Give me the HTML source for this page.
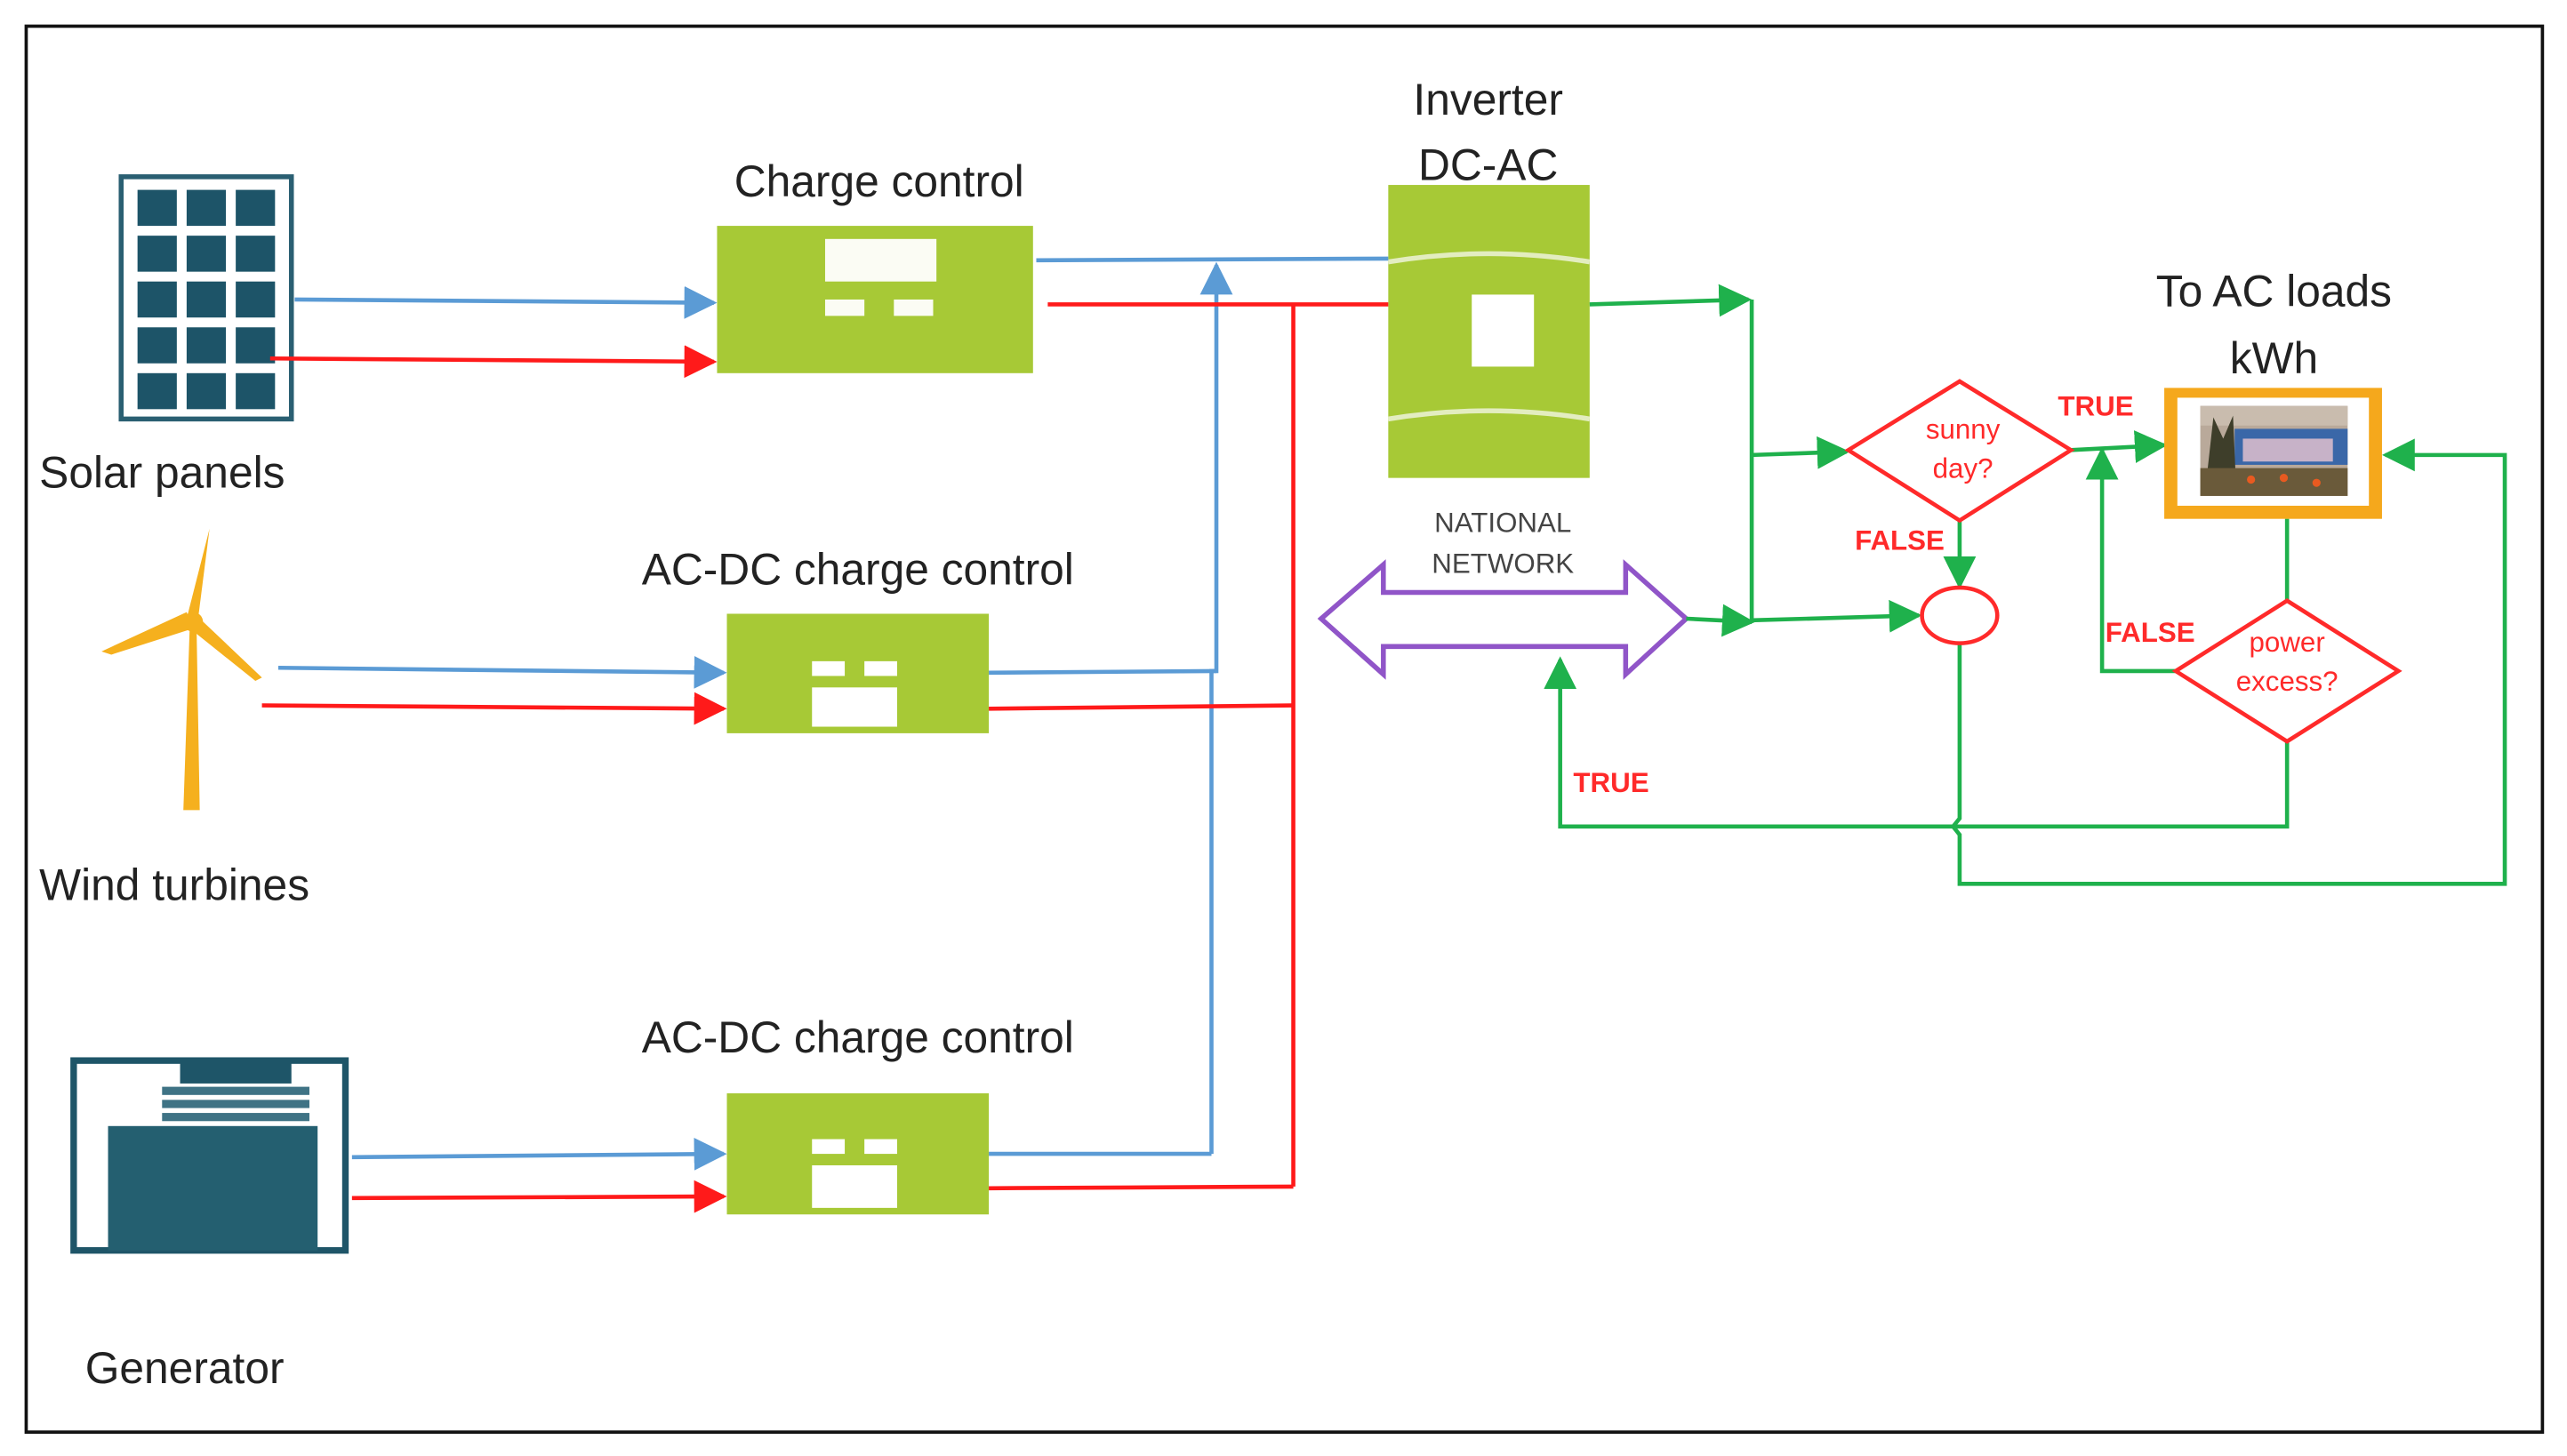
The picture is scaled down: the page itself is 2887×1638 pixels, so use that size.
<!DOCTYPE html>
<html><head><meta charset="utf-8"><style>
html,body{margin:0;padding:0;background:#fff;}
svg{display:block;}
text{font-family:"Liberation Sans",sans-serif;}
</style></head><body>
<svg width="2887" height="1638" viewBox="0 0 1568 889.6" preserveAspectRatio="none" xmlns="http://www.w3.org/2000/svg">
<defs>
<marker id="ab" viewBox="0 0 10 10" refX="9" refY="5" markerWidth="8" markerHeight="8" orient="auto" markerUnits="strokeWidth"><path d="M0,0L10,5L0,10z" fill="#5b9bd5"/></marker>
<marker id="ar" viewBox="0 0 10 10" refX="9" refY="5" markerWidth="8" markerHeight="8" orient="auto" markerUnits="strokeWidth"><path d="M0,0L10,5L0,10z" fill="#ff1a1a"/></marker>
<marker id="ag" viewBox="0 0 10 10" refX="9" refY="5" markerWidth="8" markerHeight="8" orient="auto" markerUnits="strokeWidth"><path d="M0,0L10,5L0,10z" fill="#1fb14c"/></marker>
</defs>
<rect x="0" y="0" width="1568" height="889.6" fill="#fff"/>
<rect x="16" y="16" width="1537" height="859" fill="none" stroke="#111" stroke-width="2"/>

<!-- Solar panel -->
<rect x="74" y="108" width="104" height="148" fill="#fff" stroke="#2a5f72" stroke-width="3"/>
<g fill="#1d5468">
<rect x="84" y="116" width="24" height="22"/><rect x="114" y="116" width="24" height="22"/><rect x="144" y="116" width="24" height="22"/>
<rect x="84" y="144" width="24" height="22"/><rect x="114" y="144" width="24" height="22"/><rect x="144" y="144" width="24" height="22"/>
<rect x="84" y="172" width="24" height="22"/><rect x="114" y="172" width="24" height="22"/><rect x="144" y="172" width="24" height="22"/>
<rect x="84" y="200" width="24" height="22"/><rect x="114" y="200" width="24" height="22"/><rect x="144" y="200" width="24" height="22"/>
<rect x="84" y="228" width="24" height="22"/><rect x="114" y="228" width="24" height="22"/><rect x="144" y="228" width="24" height="22"/>
</g>
<text x="24" y="298" font-size="27" fill="#222">Solar panels</text>

<!-- Wind turbine -->
<g fill="#f5b01e">
<polygon points="112,495 122,495 120,380 116,380"/>
<polygon points="114,378 128,323 121,378"/>
<polygon points="114,374 62,398 68,400 118,384"/>
<polygon points="120,376 160,414 156,416 116,384"/>
<circle cx="118" cy="380" r="6"/>
</g>
<text x="24" y="550" font-size="27" fill="#222">Wind turbines</text>

<!-- Generator -->
<rect x="45" y="648" width="166" height="116" fill="#fff" stroke="#1e5568" stroke-width="4"/>
<rect x="110" y="648" width="68" height="14" fill="#1e5568"/>
<rect x="99" y="664" width="90" height="5" fill="#3f7385"/>
<rect x="99" y="672" width="90" height="5" fill="#3f7385"/>
<rect x="99" y="680" width="90" height="5" fill="#3f7385"/>
<rect x="66" y="688" width="128" height="76" fill="#245f70"/>
<text x="52" y="845" font-size="27" fill="#222">Generator</text>

<!-- Charge controllers -->
<text x="537" y="120" font-size="27" fill="#222" text-anchor="middle">Charge control</text>
<rect x="438" y="138" width="193" height="90" fill="#a7c936"/>
<rect x="504" y="146" width="68" height="26" fill="#fff" opacity=".95"/>
<rect x="504" y="183" width="24" height="10" fill="#fff" opacity=".95"/>
<rect x="546" y="183" width="24" height="10" fill="#fff" opacity=".95"/>

<text x="524" y="357" font-size="27" fill="#222" text-anchor="middle">AC-DC charge control</text>
<rect x="444" y="375" width="160" height="73" fill="#a7c936"/>
<rect x="496" y="404" width="20" height="9" fill="#fff"/><rect x="528" y="404" width="20" height="9" fill="#fff"/>
<rect x="496" y="420" width="52" height="24" fill="#fff"/>

<text x="524" y="643" font-size="27" fill="#222" text-anchor="middle">AC-DC charge control</text>
<rect x="444" y="668" width="160" height="74" fill="#a7c936"/>
<rect x="496" y="696" width="20" height="9" fill="#fff"/><rect x="528" y="696" width="20" height="9" fill="#fff"/>
<rect x="496" y="712" width="52" height="26" fill="#fff"/>

<!-- Inverter -->
<text x="909" y="70" font-size="27" fill="#222" text-anchor="middle">Inverter</text>
<text x="909" y="110" font-size="27" fill="#222" text-anchor="middle">DC-AC</text>
<rect x="848" y="113" width="123" height="179" fill="#a7c936"/>
<path d="M848,160 Q909,150 971,160" stroke="#e3edc0" stroke-width="3" fill="none"/>
<path d="M848,256 Q909,246 971,256" stroke="#e3edc0" stroke-width="3" fill="none"/>
<rect x="899" y="180" width="38" height="44" fill="#fff"/>

<!-- Blue lines -->
<g stroke="#5b9bd5" stroke-width="2.5" fill="none">
<line x1="180" y1="183" x2="436" y2="185" marker-end="url(#ab)"/>
<line x1="170" y1="408" x2="442" y2="411" marker-end="url(#ab)"/>
<line x1="215" y1="707" x2="442" y2="705" marker-end="url(#ab)"/>
<line x1="633" y1="159" x2="848" y2="158"/>
<line x1="604" y1="411" x2="743" y2="410"/>
<line x1="604" y1="705" x2="740" y2="705"/>
<polyline points="740,705 740,410 743,410 743,162" marker-end="url(#ab)"/>
</g>
<!-- Red lines -->
<g stroke="#ff1a1a" stroke-width="2.5" fill="none">
<line x1="165" y1="219" x2="436" y2="221" marker-end="url(#ar)"/>
<line x1="160" y1="431" x2="442" y2="433" marker-end="url(#ar)"/>
<line x1="215" y1="732" x2="442" y2="731" marker-end="url(#ar)"/>
<line x1="640" y1="186" x2="848" y2="186"/>
<line x1="790" y1="186" x2="790" y2="725"/>
<line x1="604" y1="433" x2="790" y2="431"/>
<line x1="604" y1="726" x2="790" y2="725"/>
</g>

<!-- National network -->
<text x="918" y="325" font-size="17" fill="#444" text-anchor="middle">NATIONAL</text>
<text x="918" y="350" font-size="17" fill="#444" text-anchor="middle">NETWORK</text>
<polygon points="807,378 845,345 845,362 993,362 993,345 1030,378 993,412 993,395 845,395 845,412" fill="#fff" stroke="#9055c8" stroke-width="3"/>

<!-- Green connectors -->
<g stroke="#1fb14c" stroke-width="2.5" fill="none">
<line x1="971" y1="186" x2="1068" y2="183" marker-end="url(#ag)"/>
<line x1="1070" y1="183" x2="1070" y2="380"/>
<line x1="1070" y1="278" x2="1128" y2="276" marker-end="url(#ag)"/>
<line x1="1030" y1="378" x2="1070" y2="380" marker-end="url(#ag)"/>
<line x1="1070" y1="379" x2="1172" y2="376" marker-end="url(#ag)"/>
<line x1="1265" y1="275" x2="1322" y2="272" marker-end="url(#ag)"/>
<line x1="1197" y1="318" x2="1197" y2="358" marker-end="url(#ag)"/>
<line x1="1397" y1="317" x2="1397" y2="367"/>
<polyline points="1329,410 1284,410 1284,275" marker-end="url(#ag)"/>
<polyline points="1397,453 1397,505 953,505 953,403" marker-end="url(#ag)"/>
<polyline points="1197,393 1197,500 1193,505 1197,510 1197,540 1530,540 1530,278 1457,278" marker-end="url(#ag)"/>
</g>

<!-- Diamonds -->
<polygon points="1197,233 1265,275 1197,318 1129,275" fill="#fff" stroke="#ff2a2a" stroke-width="2.5"/>
<text x="1199" y="268" font-size="17" fill="#ff2a2a" text-anchor="middle">sunny</text>
<text x="1199" y="292" font-size="17" fill="#ff2a2a" text-anchor="middle">day?</text>
<polygon points="1397,367 1465,410 1397,453 1329,410" fill="#fff" stroke="#ff2a2a" stroke-width="2.5"/>
<text x="1397" y="398" font-size="17" fill="#ff2a2a" text-anchor="middle">power</text>
<text x="1397" y="422" font-size="17" fill="#ff2a2a" text-anchor="middle">excess?</text>
<ellipse cx="1197" cy="376" rx="23" ry="17" fill="#fff" stroke="#ff2a2a" stroke-width="2.5"/>

<!-- labels -->
<g font-size="17" fill="#ff2a2a" font-weight="bold">
<text x="1257" y="254">TRUE</text>
<text x="1133" y="336">FALSE</text>
<text x="1286" y="392">FALSE</text>
<text x="961" y="484">TRUE</text>
</g>

<!-- Monitor -->
<text x="1389" y="187" font-size="27" fill="#222" text-anchor="middle">To AC loads</text>
<text x="1389" y="228" font-size="27" fill="#222" text-anchor="middle">kWh</text>
<rect x="1322" y="237" width="133" height="80" fill="#f5a81c"/>
<rect x="1330" y="243" width="117" height="66" fill="#fff"/>
<rect x="1344" y="248" width="90" height="55" fill="#b9a99a"/>
<rect x="1344" y="248" width="90" height="12" fill="#c9bcae"/>
<rect x="1365" y="262" width="69" height="22" fill="#3a67a8"/>
<rect x="1370" y="268" width="55" height="14" fill="#c7b2c8"/>
<polygon points="1347,300 1352,255 1358,268 1364,254 1366,300" fill="#3e3e2a"/>
<rect x="1344" y="286" width="90" height="17" fill="#6a5a3a"/>
<circle cx="1375" cy="293" r="2.5" fill="#e85a20"/><circle cx="1395" cy="292" r="2.5" fill="#e85a20"/><circle cx="1415" cy="295" r="2.5" fill="#e85a20"/>
</svg>
</body></html>
